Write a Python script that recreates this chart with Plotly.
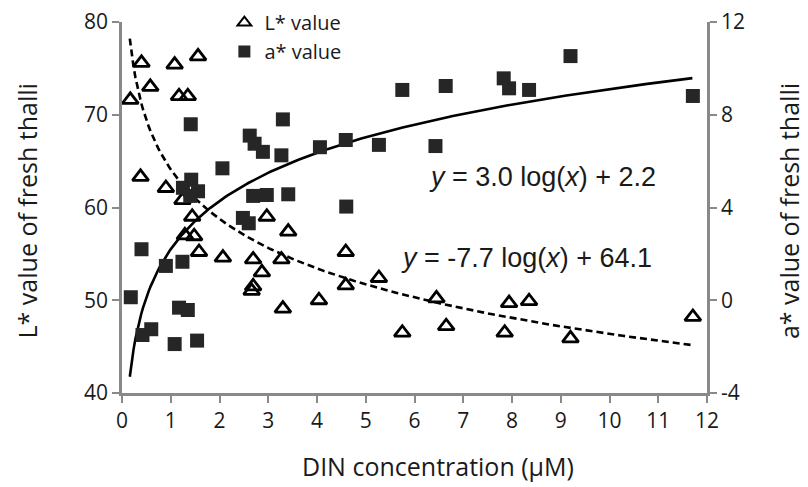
import numpy as np
import plotly.graph_objects as go

# ---- data ----
L_x = [0.17, 0.40, 0.58, 1.08, 1.56, 1.17, 1.35, 0.38, 0.90, 1.24, 1.44, 1.29, 1.48, 1.58,
       2.07, 2.69, 2.66, 2.69, 2.97, 3.41, 4.59, 3.27, 2.87, 4.59, 5.27, 6.45, 3.30, 4.04,
       5.75, 6.65, 7.94, 8.35, 7.85, 9.20, 11.71]
L_val = [71.6, 75.6, 73.0, 75.4, 76.3, 72.0, 72.0, 63.3, 62.1, 60.8, 59.0, 57.0, 56.9, 55.2,
         54.6, 54.4, 51.0, 51.5, 59.0, 57.4, 55.2, 54.4, 53.0, 51.6, 52.4, 50.2, 49.1, 50.0,
         46.5, 47.2, 49.7, 49.9, 46.5, 45.9, 48.2]

a_x = [0.18, 0.40, 0.42, 0.60, 0.90, 1.24, 1.17, 1.35, 1.08, 1.54, 1.41, 2.06,
       1.42, 1.25, 1.56, 1.40,
       2.48, 2.60, 2.69, 2.97, 3.41, 4.60,
       2.62, 2.72, 2.89, 3.27, 3.30, 4.06, 4.59, 5.27, 6.43,
       5.75, 6.64, 7.83, 7.94, 8.35, 9.20, 11.71]
a_val = [0.13, 2.2, -1.5, -1.25, 1.48, 1.66, -0.32, -0.42, -1.89, -1.74, 7.59, 5.69,
         5.2, 4.85, 4.7, 4.5,
         3.55, 3.32, 4.50, 4.54, 4.57, 4.04,
         7.1, 6.75, 6.4, 6.25, 7.8, 6.6, 6.91, 6.70, 6.65,
         9.07, 9.24, 9.57, 9.14, 9.07, 10.53, 8.81]

# logarithmic trendlines as printed on the chart
L_slope, L_intercept = -7.7, 64.1
a_slope, a_intercept = 3.0, 2.2
fit_x_min, fit_x_max = 0.16, 11.7

x_ticks = list(range(0, 13))
L_ticks = [40, 50, 60, 70, 80]
a_ticks = [-4, 0, 4, 8, 12]

fit_x = np.linspace(fit_x_min, fit_x_max, 300)
L_fit = L_slope * np.log(fit_x) + L_intercept
a_fit = a_slope * np.log(fit_x) + a_intercept

AX = "#898989"
TXT = "#1a1a1a"
TICKFONT = dict(family="Open Sans", size=21, color=TXT)

fig = go.Figure()
fig.add_trace(go.Scatter(x=fit_x, y=L_fit, mode="lines", yaxis="y",
                         line=dict(color="black", width=2.6, dash="7px,4px"),
                         showlegend=False, hoverinfo="skip"))
fig.add_trace(go.Scatter(x=fit_x, y=a_fit, mode="lines", yaxis="y2",
                         line=dict(color="black", width=2.6),
                         showlegend=False, hoverinfo="skip"))
fig.add_trace(go.Scatter(x=L_x, y=L_val, mode="markers", name="L* value", yaxis="y",
                         marker=dict(symbol="triangle-up-open", size=14, color="black",
                                     line=dict(color="black", width=2.8))))
fig.add_trace(go.Scatter(x=a_x, y=a_val, mode="markers", name="a* value", yaxis="y2",
                         marker=dict(symbol="square", size=14, color="#262626",
                                     line=dict(width=0))))

# the page body adds an 8px offset, so the figure is 8px smaller than the window
fig.update_layout(
    width=800, height=479,
    margin=dict(l=114, r=101, t=14, b=94, autoexpand=False),
    paper_bgcolor="white", plot_bgcolor="white",
    font=dict(family="Open Sans", color=TXT),
    xaxis=dict(range=[0, 12], tickvals=x_ticks, ticktext=[str(v) for v in x_ticks],
               showgrid=False, zeroline=False, showline=True, linecolor=AX, linewidth=2.5,
               ticks="outside", ticklen=7, tickwidth=2, tickcolor=AX, tickfont=TICKFONT,
               automargin=False, ticklabeloverflow="allow"),
    yaxis=dict(range=[40, 80], tickvals=L_ticks, ticktext=[str(v) for v in L_ticks],
               showgrid=False, zeroline=False,
               showline=True, linecolor=AX, linewidth=2.5, ticks="outside", ticklen=7,
               tickwidth=2, tickcolor=AX, tickfont=TICKFONT, automargin=False,
               ticklabeloverflow="allow"),
    yaxis2=dict(range=[-4, 12], tickvals=a_ticks, ticktext=[str(v) for v in a_ticks],
                overlaying="y", side="right",
                showgrid=False, zeroline=False, showline=True, linecolor=AX, linewidth=2.5,
                ticks="outside", ticklen=7, tickwidth=2, tickcolor=AX, tickfont=TICKFONT,
                automargin=False, ticklabeloverflow="allow"),
    legend=dict(x=0.175, y=1.051, xanchor="left", yanchor="top", bgcolor="rgba(0,0,0,0)",
                font=dict(family="Open Sans", size=20, color=TXT), tracegroupgap=0,
                itemsizing="constant"),
    showlegend=True,
)

ann = [
    dict(text="DIN concentration (µM)", xref="paper", yref="paper", x=0.54, y=-0.197,
         xanchor="center", yanchor="middle", showarrow=False,
         font=dict(family="Open Sans", size=25, color=TXT)),
    dict(text="L* value of fresh thalli", xref="paper", yref="paper", x=-0.162, y=0.49,
         xanchor="center", yanchor="middle", textangle=-90, showarrow=False,
         font=dict(family="Open Sans", size=25, color=TXT)),
    dict(text="a* value of fresh thalli", xref="paper", yref="paper", x=1.14, y=0.49,
         xanchor="center", yanchor="middle", textangle=-90, showarrow=False,
         font=dict(family="Open Sans", size=25, color=TXT)),
    dict(text="<i>y</i> = 3.0 log(<i>x</i>) + 2.2", xref="x", yref="y", x=6.26, y=63.3,
         xanchor="left", yanchor="middle", showarrow=False,
         font=dict(family="Liberation Sans", size=27, color=TXT)),
    dict(text="<i>y</i> = -7.7 log(<i>x</i>) + 64.1", xref="x", yref="y", x=5.68, y=54.6,
         xanchor="left", yanchor="middle", showarrow=False,
         font=dict(family="Liberation Sans", size=27, color=TXT)),
]
fig.update_layout(annotations=ann)

fig.write_html("out.html")
